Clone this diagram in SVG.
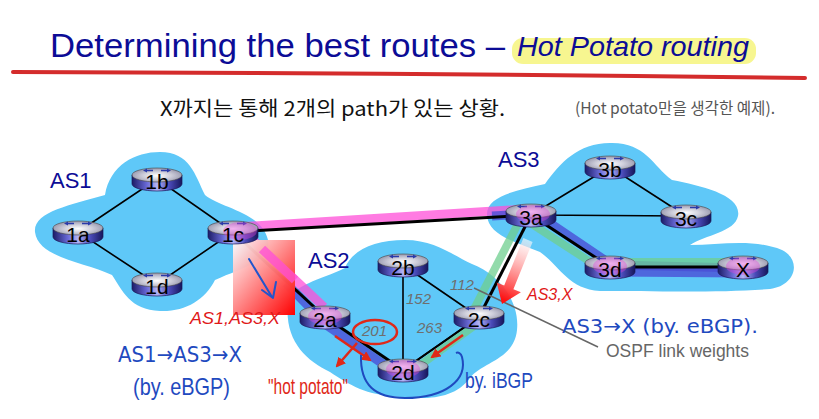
<svg xmlns="http://www.w3.org/2000/svg" width="819" height="419" viewBox="0 0 819 419">
<style>
.lab{font-family:"Liberation Sans",Arial,sans-serif;font-size:21px;fill:#000;text-anchor:middle}
.as{font-family:"Liberation Sans",Arial,sans-serif;font-size:22px;fill:#0c0c96}
.lk{stroke:#000;stroke-width:1.6;fill:none}
.lkb{stroke:#000;stroke-width:3;fill:none}
.pink{stroke:#ff4fd8;stroke-opacity:0.75;stroke-width:9;fill:none}
.blue{stroke:#4a4fd6;stroke-opacity:0.8;stroke-width:9;fill:none}
.green{stroke:#6fcf8f;stroke-opacity:0.75;stroke-width:8;fill:none}
.w{font-family:"Liberation Sans",Arial,sans-serif;font-style:italic;font-size:15px;fill:#6e6e6e}
.red{font-family:"Liberation Sans",Arial,sans-serif;font-style:italic;font-size:16px;fill:#e01818}
.hand{font-family:"Liberation Sans","Noto Sans CJK KR",sans-serif;fill:#1f4abf}
.handa{font-family:"DejaVu Sans",sans-serif;fill:#1f4abf}
.ra{stroke:#e02818;stroke-width:2.5;fill:none}
.blob{fill:#5fc8f8}
</style>
<defs>
<radialGradient id="gtop" cx="0.5" cy="0.55" r="0.6">
<stop offset="0" stop-color="#ffffff"/>
<stop offset="0.45" stop-color="#d0d0dc"/>
<stop offset="1" stop-color="#8c8ca4"/>
</radialGradient>
<linearGradient id="gside" x1="0" y1="0" x2="1" y2="0">
<stop offset="0" stop-color="#1c1c66"/>
<stop offset="0.3" stop-color="#6a6ad8"/>
<stop offset="0.5" stop-color="#b4b4f4"/>
<stop offset="0.75" stop-color="#4a4ab8"/>
<stop offset="1" stop-color="#16165a"/>
</linearGradient>
<linearGradient id="gred" x1="0" y1="0" x2="1" y2="1">
<stop offset="0" stop-color="#ffffff" stop-opacity="0.95"/>
<stop offset="1" stop-color="#ff0000"/>
</linearGradient>
<linearGradient id="gfat" gradientUnits="userSpaceOnUse" x1="528" y1="240" x2="504" y2="300">
<stop offset="0" stop-color="#ffffff" stop-opacity="0.6"/>
<stop offset="1" stop-color="#ff1010"/>
</linearGradient>
<marker id="ah" viewBox="0 0 10 10" refX="8" refY="5" markerWidth="4" markerHeight="4" orient="auto">
<path d="M0,0 L10,5 L0,10 Z" fill="#e02818"/>
</marker>
<g id="rt">
<path d="M-25,-4 L-25,5 A25,7 0 0 0 25,5 L25,-4 Z" fill="url(#gside)" stroke="#1a1a5a" stroke-width="0.7"/>
<ellipse cx="0" cy="-4" rx="25" ry="7" fill="url(#gtop)" stroke="#444" stroke-width="0.6"/>
<path d="M-4,-8.5 L-11,-8.5 M4,-8.5 L11,-8.5" stroke="#2a3aaa" stroke-width="1.6"/>
<path d="M-14,-8.5 L-10,-10.5 L-10,-6.5 Z M14,-8.5 L10,-10.5 L10,-6.5 Z" fill="#2a3aaa"/>
</g>
<g id="tint"><ellipse cx="0" cy="-1" rx="17" ry="9" fill="#e040d8" fill-opacity="0.4"/></g>
</defs>

<rect width="819" height="419" fill="#ffffff"/>

<!-- title -->
<rect x="512" y="38" width="244" height="26" rx="11" fill="#f6f57c" fill-opacity="0.85"/>
<text x="50" y="57" font-family="Liberation Sans,Arial,sans-serif" font-size="33" fill="#0c0c96" textLength="455" lengthAdjust="spacingAndGlyphs">Determining the best routes –</text>
<text x="517" y="56" font-family="Liberation Sans,Arial,sans-serif" font-size="28" font-style="italic" fill="#0c0c96" textLength="232" lengthAdjust="spacingAndGlyphs">Hot Potato routing</text>
<path d="M13,72 Q400,73 805,78" stroke="#d42c2c" stroke-width="4" stroke-linecap="round" fill="none"/>

<text x="160" y="116" font-family="Noto Sans CJK KR,sans-serif" font-size="20" fill="#111" textLength="345" lengthAdjust="spacingAndGlyphs">X까지는 통해 2개의 path가 있는 상황.</text>
<text x="575" y="114" font-family="Noto Sans CJK KR,sans-serif" font-size="16" fill="#555" textLength="200" lengthAdjust="spacingAndGlyphs">(Hot potato만을 생각한 예제).</text>

<!-- AS blobs -->
<g id="as1">
<path class="blob" d="M35,232 C33,212 70,205 105,195 C110,165 135,152 160,152 C190,152 195,175 205,195 C220,208 262,212 268,240 C272,262 240,268 215,280 C205,300 185,312 160,311 C130,310 122,290 112,275 C85,262 38,258 35,232 Z"/>
<text class="as" x="50" y="188">AS1</text>
</g>
<g id="as2">
<path class="blob" d="M288,302 C292,285 320,280 345,268 C352,250 375,240 405,240 C435,240 452,255 472,264 C498,274 520,300 517,330 C514,360 482,362 470,378 C455,398 430,400 400,397 C365,395 350,385 330,372 C305,360 284,340 288,302 Z"/>
<text class="as" x="308" y="268">AS2</text>
</g>
<g id="as3">
<path class="blob" d="M487,215 C486,195 520,190 545,184 C560,163 578,143 610,143 C645,142 652,165 672,180 C702,186 742,195 738,216 C735,232 705,235 690,245 C720,245 752,238 782,250 C802,260 796,286 770,289 C720,293 650,291 600,291 C568,289 560,266 540,252 C515,242 488,235 487,215 Z"/>
<text class="as" x="498" y="167">AS3</text>
</g>

<!-- connectors -->
<g id="connectors">
<path class="pink" d="M238,227 L527,209"/>
<path class="blue" d="M492,216 L527,214"/>
<path class="pink" d="M240,228 L324,307"/>
<path class="blue" d="M286,283 L320,318"/>
<path class="blue" d="M322,322 L399,375"/>
<path class="green" d="M523,214 L472,313"/>
<path class="green" d="M478,323 L408,374"/>
<path class="blue" d="M535,213 L612,265 L743,268"/>
<path class="green" d="M527,221 L606,272"/>
<path class="green" d="M612,262 L743,262"/>
<path class="blue" d="M612,272 L743,273"/>

<path class="lk" d="M78,232 L157,179 L233,232 L157,284 Z"/>
<path class="lk" d="M403,265 L403,370 M403,265 L479,317 M479,317 L403,370"/>
<path class="lk" d="M531,215 L610,167 L686,216 M531,215 L686,216"/>
<path class="lkb" d="M233,232 L531,215"/>
<path class="lkb" d="M233,232 L325,317"/>
<path class="lkb" d="M325,317 L403,370" stroke-width="2.5"/>
<path class="lkb" d="M479,317 L531,215"/>
<path class="lkb" d="M531,215 L610,267 L743,267"/>
<path d="M479,317 L403,370" stroke="#000" stroke-width="2"/>
</g>

<!-- red gradient box over 1c-2a link -->
<rect x="233" y="240" width="62" height="75" fill="url(#gred)"/>
<path class="pink" d="M262,249 L295,280" stroke-opacity="0.45"/>
<path d="M249,259 L272,297 M262,290 L273,298 L276,282" stroke="#2255cc" stroke-width="2" fill="none" stroke-linecap="round" stroke-linejoin="round"/>

<!-- nodes -->
<g id="n1a"><use href="#rt" x="78" y="232"/><text class="lab" x="78" y="242">1a</text></g>
<g id="n1b"><use href="#rt" x="157" y="179"/><text class="lab" x="157" y="189">1b</text></g>
<g id="n1c"><use href="#rt" x="233" y="232"/><use href="#tint" x="240" y="232"/><text class="lab" x="233" y="242">1c</text></g>
<g id="n1d"><use href="#rt" x="157" y="284"/><text class="lab" x="157" y="294">1d</text></g>
<g id="n2a"><use href="#rt" x="325" y="317"/><use href="#tint" x="325" y="317"/><text class="lab" x="325" y="327">2a</text></g>
<g id="n2b"><use href="#rt" x="403" y="265"/><text class="lab" x="403" y="275">2b</text></g>
<g id="n2c"><use href="#rt" x="479" y="317"/><text class="lab" x="479" y="327">2c</text></g>
<g id="n2d"><use href="#rt" x="403" y="370"/><use href="#tint" x="403" y="370"/><text class="lab" x="403" y="380">2d</text></g>
<g id="n3a"><use href="#rt" x="531" y="215"/><use href="#tint" x="533" y="215"/><text class="lab" x="531" y="225">3a</text></g>
<g id="n3b"><use href="#rt" x="610" y="167"/><text class="lab" x="610" y="177">3b</text></g>
<g id="n3c"><use href="#rt" x="686" y="216"/><text class="lab" x="686" y="226">3c</text></g>
<g id="n3d"><use href="#rt" x="610" y="267"/><use href="#tint" x="610" y="267"/><text class="lab" x="610" y="277">3d</text></g>
<g id="nX"><use href="#rt" x="743" y="267"/><use href="#tint" x="743" y="267"/><text class="lab" x="743" y="277">X</text></g>

<!-- weights -->
<text class="w" x="450" y="290">112</text>
<text class="w" x="406" y="304">152</text>
<text class="w" x="417" y="333">263</text>
<text class="w" x="362" y="336">201</text>
<path d="M474,288 L598,347" stroke="#666" stroke-width="1.5"/>
<text x="606" y="357" font-family="Liberation Sans,Arial,sans-serif" font-size="17.5" fill="#666">OSPF link weights</text>

<!-- red annotations -->
<polygon points="532.6,241.9 513.4,289.2 520.9,292.2 502,304 496.7,282.4 504.2,285.4 523.4,238.1" fill="url(#gfat)"/>
<text class="red" x="527" y="300">AS3,X</text>
<text class="red" x="190" y="324" font-size="17" textLength="90" lengthAdjust="spacingAndGlyphs">AS1,AS3,X</text>
<ellipse cx="375" cy="332" rx="22" ry="12" fill="none" stroke="#e02818" stroke-width="2.5"/>
<path class="ra" d="M357,343 L337,366" marker-end="url(#ah)"/>
<path class="ra" d="M335,336 L370,360" marker-end="url(#ah)"/>
<path class="ra" d="M463,335 L432,357" marker-end="url(#ah)"/>
<text x="268" y="394" font-family="Liberation Sans,Arial,sans-serif" font-size="22" fill="#e02818" textLength="80" lengthAdjust="spacingAndGlyphs">"hot potato"</text>

<!-- blue annotations -->
<path d="M361,355 C360,385 375,398 405,398 C445,398 468,380 462,357 C461,353 458,352 456,353" stroke="#1f4abf" stroke-width="2" fill="none"/>
<text class="hand" x="465" y="388" font-size="22" textLength="68" lengthAdjust="spacingAndGlyphs">by. iBGP</text>
<text class="handa" x="118" y="362" font-size="22" textLength="124" lengthAdjust="spacingAndGlyphs">AS1→AS3→X</text>
<text class="hand" x="133" y="395" font-size="24" textLength="97" lengthAdjust="spacingAndGlyphs">(by. eBGP)</text>
<text class="handa" x="562" y="333" font-size="20" textLength="196" lengthAdjust="spacingAndGlyphs">AS3→X (by. eBGP).</text>
</svg>
